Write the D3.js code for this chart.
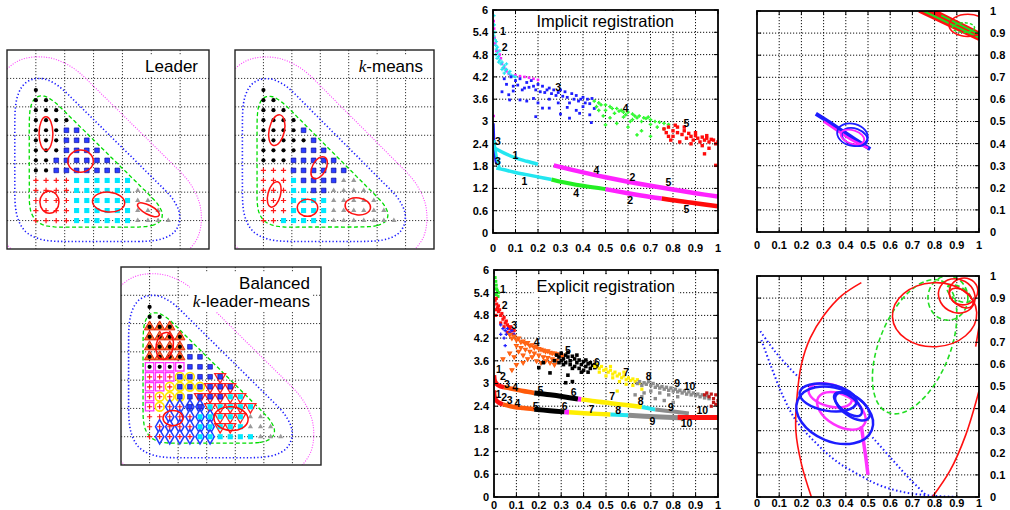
<!DOCTYPE html>
<html>
<head>
<meta charset="utf-8">
<script src="https://cdn.jsdelivr.net/npm/d3@7"></script>
<style>
  body { margin: 0; background: #fff; }
  text { font-family: "Liberation Sans", Arial, Helvetica, sans-serif; }
</style>
</head>
<body>
<svg id="fig" width="1010" height="510"></svg>
<script>
// ---------- left: clustering of a triangular lattice ----------
// rows go from the top row (j=13) down to j=0; character i is lattice column i
// k black, b blue, r red, c cyan, g gray ; overlays: o orange, m magenta, y yellow, d diamond, v down-triangle
const latticeStep = 0.353;
const leaderRows = ["k", "kk", "kkk", "kkkk", "kkkbb", "kkkbbb", "kkkbbbb", "kkbbbbbb", "kkbbbbbbb",
  "rrrrcccccc", "rrrrccccccg", "rrrrccccccgg", "rrrrccccccggg", "rrrrccccccgggg"];
const kmeansRows = ["k", "kk", "kkk", "kkkk", "kkkkb", "kkkkkb", "kkkkbbb", "kkkbbbbb", "rrrbbbbbb",
  "rrrcbbbbgg", "rrrccbbgggg", "rrrccccggggg", "rrrccccgggggg", "rrcccccggggggg"];
const balancedRows = ["k", "kk", "kkk", "kkkk", "kkkkb", "kkkkbb", "kkkkbbb", "rrrbbbbb", "rrrbbbbbb",
  "rrrbbbbbcc", "rrrrbbccccc", "rrrrrcccccgg", "rrrrrcccccggg", "rrrrrccccccggg"];
const balancedOverlay = [".", "..", "ooo", "oooo", "oooo.", "oooo..", "mmmm...", "mmmyy..v", "mmyyyyvvv",
  "myyy.vvvvv", "myddddvvvvv", "..dddddvvv..", ".ddddddvv....", ".dddddd......."];
// cluster ellipses: centre x, centre y, semi-axis x, semi-axis y, angle (deg)
const leaderEllipses = [[1.35, 4.06, 0.24, 0.59, 0], [2.55, 3.09, 0.44, 0.39, 0], [1.47, 1.65, 0.33, 0.39, 0],
  [3.52, 1.65, 0.56, 0.35, -5], [4.9, 1.38, 0.42, 0.16, -28]];
const kmeansEllipses = [[1.47, 4.18, 0.27, 0.55, -12], [2.96, 2.86, 0.24, 0.42, -28], [1.38, 1.92, 0.22, 0.46, -15],
  [2.55, 1.45, 0.36, 0.3, 0], [4.32, 1.5, 0.45, 0.3, -8]];
const balancedEllipses = [[1.53, 4.21, 0.3, 0.48, -10], [1.82, 1.66, 0.35, 0.27, 0], [3.85, 1.64, 0.6, 0.42, -5]];
const contourLevels = [0.45, 0.12, 0.02]; // share of the peak density: green, blue, magenta

// ---------- middle: registration curves ----------
const regTicks = [0, 0.6, 1.2, 1.8, 2.4, 3, 3.6, 4.2, 4.8, 5.4, 6];
const regTickLabels = ["0", "0.6", "1.2", "1.8", "2.4", "3", "3.6", "4.2", "4.8", "5.4", "6"];
const unitTicks = [0, 0.1, 0.2, 0.3, 0.4, 0.5, 0.6, 0.7, 0.8, 0.9, 1];
const unitTickLabels = ["0", "0.1", "0.2", "0.3", "0.4", "0.5", "0.6", "0.7", "0.8", "0.9", "1"];

const implicitCyanTop = [[0.004,5.85],[0.006,5.6],[0.008,5.4],[0.01,5.2],[0.012,5.05],[0.015,4.95],[0.02,4.85],[0.018,4.7],
  [0.025,4.75],[0.03,4.65],[0.035,4.55],[0.04,4.6],[0.045,4.45],[0.05,4.5],[0.055,4.38],[0.06,4.4],[0.07,4.3],[0.075,4.35],
  [0.08,4.25],[0.09,4.22],[0.1,4.2],[0.03,4.9],[0.02,5.0],[0.012,4.8],[0.04,4.4],[0.06,4.55],[0.005,5.3],[0.015,5.15],[0.025,4.6],[0.05,4.3]];
const implicitMagentaTop = [[0.003,5.7],[0.005,5.5],[0.007,5.25],[0.01,5.1],[0.015,4.9],[0.02,4.9],[0.03,4.8],[0.035,4.7],
  [0.04,4.55],[0.05,4.45],[0.06,4.35],[0.07,4.28],[0.08,4.22],[0.1,4.25],[0.12,4.22],[0.14,4.2],[0.16,4.18],[0.18,4.15],[0.2,4.12],[0.003,3.15]];
const implicitBlue = [[0.05,4.15],[0.08,4.2],[0.1,4.1],[0.12,4.15],[0.15,4.05],[0.17,4.1],[0.2,4.0],[0.22,3.95],[0.25,3.9],
  [0.27,3.85],[0.3,3.85],[0.32,3.8],[0.35,3.75],[0.37,3.7],[0.4,3.65],[0.42,3.6],[0.44,3.62],[0.06,4.0],[0.09,3.95],[0.11,3.98],
  [0.14,3.9],[0.16,3.92],[0.19,3.85],[0.21,3.8],[0.23,3.78],[0.26,3.75],[0.28,3.7],[0.31,3.68],[0.33,3.65],[0.36,3.6],[0.38,3.55],
  [0.41,3.5],[0.43,3.48],[0.04,3.8],[0.07,3.72],[0.074,3.58],[0.12,3.58],[0.15,3.55],[0.18,3.62],[0.2,3.5],[0.22,3.36],[0.19,3.13],
  [0.25,3.36],[0.29,3.5],[0.3,3.2],[0.33,3.38],[0.34,3.09],[0.37,3.3],[0.385,3.22],[0.4,3.4],[0.43,3.18],[0.437,2.97],[0.45,3.35],
  [0.13,3.85],[0.25,3.6],[0.34,3.5],[0.09,3.82],[0.18,3.95],[0.24,3.85],[0.29,3.78],[0.39,3.6]];
const implicitGreen = [[0.45,3.55],[0.47,3.5],[0.48,3.45],[0.5,3.45],[0.52,3.4],[0.53,3.35],[0.55,3.35],[0.57,3.3],[0.58,3.25],
  [0.6,3.25],[0.62,3.2],[0.63,3.15],[0.65,3.15],[0.67,3.1],[0.68,3.08],[0.7,3.05],[0.72,3.0],[0.74,2.98],[0.76,2.95],[0.78,2.92],
  [0.5,3.3],[0.54,3.22],[0.58,3.12],[0.62,3.05],[0.66,3.0],[0.7,2.92],[0.73,2.85],[0.47,3.3],[0.49,3.15],[0.5,2.91],[0.52,3.1],
  [0.55,2.95],[0.6,2.85],[0.64,2.64],[0.66,2.75],[0.7,2.6],[0.76,2.8],[0.46,3.4],[0.56,3.28],[0.69,3.12],[0.61,3.0],[0.64,3.1],[0.59,3.18]];
const implicitRed = [[0.76,2.8],[0.77,2.7],[0.78,2.85],[0.8,2.75],[0.8,2.6],[0.82,2.7],[0.82,2.85],[0.84,2.65],[0.85,2.75],
  [0.86,2.55],[0.87,2.68],[0.88,2.6],[0.89,2.5],[0.9,2.62],[0.91,2.55],[0.92,2.45],[0.93,2.58],[0.94,2.5],[0.95,2.55],[0.96,2.45],
  [0.97,2.52],[0.98,2.5],[0.99,2.4],[1.0,2.45],[0.79,2.5],[0.83,2.45],[0.88,2.4],[0.93,2.35],[0.94,2.13],[0.96,2.28],[0.99,1.82],
  [0.85,2.85],[0.78,2.6],[0.81,2.9],[0.9,2.7],[0.95,2.62]];
const implicitBlueStreak = [[0.002,2.95],[0.004,2.6],[0.006,2.3],[0.01,2.0],[0.015,1.85]];
const implicitCyanStreak = [[0.006,2.5],[0.012,2.2],[0.02,1.95],[0.03,1.75]];
const implicitCyanUpper = [[0.008,2.28],[0.05,2.15],[0.1,2.02],[0.15,1.93],[0.2,1.85]];
const implicitMagentaUpper = [[0.27,1.82],[0.4,1.63],[0.5,1.5],[0.6,1.38],[0.7,1.27],[0.8,1.17],[0.9,1.07],[1.0,0.98]];
const implicitCyanLower = [[0.015,1.75],[0.05,1.7],[0.1,1.63],[0.15,1.57],[0.2,1.51],[0.26,1.44]];
const implicitGreenLower = [[0.26,1.44],[0.3,1.38],[0.4,1.27],[0.5,1.18]];
const implicitMagentaLower = [[0.5,1.18],[0.6,1.07],[0.7,0.97],[0.75,0.93]];
const implicitRedLower = [[0.75,0.93],[0.8,0.88],[0.9,0.8],[1.0,0.72]];
const implicitLabels = [["1",0.044,5.42],["2",0.052,5.01],["3",0.29,3.92],["4",0.59,3.36],["5",0.86,2.95],["3",0.022,2.46],
  ["3",0.022,1.94],["1",0.1,2.1],["1",0.14,1.39],["4",0.46,1.68],["2",0.62,1.5],["5",0.78,1.36],["4",0.37,1.07],["2",0.61,0.88],["5",0.86,0.64]];

const explicitGreenTop = [[0.005,5.8],[0.008,5.7],[0.01,5.6],[0.012,5.5],[0.015,5.45],[0.01,5.35],[0.02,5.4],[0.005,5.5],[0.018,5.3]];
const explicitRedTop = [[0.005,5.2],[0.01,5.25],[0.012,5.1],[0.015,5.0],[0.02,5.05],[0.02,4.9],[0.025,4.95],[0.03,4.8],[0.035,4.85],
  [0.04,4.7],[0.045,4.75],[0.05,4.6],[0.055,4.65],[0.06,4.55],[0.065,4.5],[0.07,4.45],[0.075,4.5],[0.08,4.4],[0.09,4.4],[0.01,4.95],
  [0.008,4.8],[0.03,4.6],[0.045,4.5],[0.06,4.35],[0.085,4.3]];
const explicitBlueTop = [[0.03,4.55],[0.04,4.45],[0.05,4.4],[0.06,4.45],[0.07,4.35],[0.08,4.4],[0.09,4.3],[0.055,4.3],[0.045,4.2],[0.03,4.3],[0.05,4.0]];
const explicitOrange = [[0.07,4.3],[0.08,4.2],[0.09,4.25],[0.1,4.15],[0.11,4.2],[0.12,4.1],[0.13,4.12],[0.14,4.05],[0.15,4.08],
  [0.16,4.0],[0.17,4.02],[0.18,3.95],[0.19,3.98],[0.2,3.92],[0.21,3.9],[0.22,3.88],[0.23,3.85],[0.24,3.86],[0.25,3.82],[0.26,3.8],
  [0.27,3.8],[0.28,3.78],[0.29,3.76],[0.3,3.75],[0.31,3.72],[0.1,4.0],[0.12,3.95],[0.14,3.9],[0.16,3.85],[0.18,3.8],[0.2,3.75],
  [0.22,3.7],[0.24,3.68],[0.26,3.65],[0.28,3.62],[0.11,3.85],[0.13,3.75],[0.15,3.65],[0.17,3.7],[0.19,3.6],[0.21,3.55],[0.23,3.6],
  [0.09,3.7],[0.07,3.8],[0.1,3.5],[0.25,3.55],[0.27,3.5],[0.04,3.65],[0.08,3.36],[0.13,3.55]];
const explicitBlack = [[0.28,3.75],[0.29,3.7],[0.3,3.8],[0.31,3.65],[0.32,3.75],[0.33,3.7],[0.34,3.6],[0.35,3.72],[0.36,3.65],
  [0.37,3.55],[0.38,3.62],[0.39,3.5],[0.4,3.58],[0.41,3.45],[0.42,3.52],[0.43,3.4],[0.44,3.48],[0.45,3.42],[0.3,3.6],[0.32,3.55],
  [0.34,3.5],[0.36,3.45],[0.38,3.4],[0.4,3.35],[0.42,3.3],[0.33,3.82],[0.31,3.5],[0.35,3.4],[0.39,3.3],[0.27,3.6],[0.29,3.55],
  [0.37,3.75],[0.41,3.62],[0.43,3.55],[0.45,3.5],[0.46,3.45],[0.2,3.42],[0.25,3.28],[0.22,3.55],[0.33,3.22],[0.32,3.02],[0.35,3.05]];
const explicitYellow = [[0.45,3.45],[0.46,3.5],[0.47,3.4],[0.48,3.45],[0.49,3.35],[0.5,3.38],[0.51,3.3],[0.52,3.35],[0.53,3.25],
  [0.54,3.3],[0.55,3.2],[0.56,3.25],[0.57,3.15],[0.58,3.2],[0.59,3.1],[0.6,3.15],[0.61,3.08],[0.62,3.12],[0.63,3.05],[0.64,3.1],
  [0.65,3.0],[0.47,3.3],[0.5,3.2],[0.53,3.15],[0.56,3.05],[0.59,2.98],[0.62,2.95],[0.55,2.8],[0.66,2.85],[0.52,3.45],[0.58,3.3]];
const explicitGray = [[0.64,3.0],[0.65,3.05],[0.66,2.95],[0.67,3.02],[0.68,2.98],[0.69,3.05],[0.7,2.95],[0.71,3.0],[0.72,2.9],
  [0.73,2.95],[0.74,2.88],[0.75,2.92],[0.76,2.85],[0.77,2.9],[0.78,2.82],[0.79,2.88],[0.8,2.8],[0.81,2.85],[0.82,2.78],[0.83,2.82],
  [0.84,2.75],[0.85,2.8],[0.86,2.72],[0.87,2.78],[0.88,2.7],[0.89,2.75],[0.9,2.68],[0.91,2.72],[0.92,2.65],[0.93,2.7],[0.94,2.62],
  [0.95,2.68],[0.96,2.6],[0.7,2.8],[0.74,2.75],[0.78,2.7],[0.82,2.65],[0.67,2.75],[0.72,2.6],[0.76,2.55],[0.8,2.5],[0.66,2.65],[0.63,2.7]];
const explicitRedEnd = [[0.94,2.7],[0.95,2.75],[0.96,2.65],[0.97,2.72],[0.98,2.6],[0.99,2.7],[0.98,2.5],[0.99,2.45],[0.97,2.4],[1.0,2.55]];
const explicitUpperRed = [[0.0,3.22],[0.005,3.05],[0.02,2.95],[0.045,2.9]];
const explicitUpperOrange = [[0.045,2.9],[0.092,2.85],[0.13,2.8],[0.18,2.75]];
const explicitUpperBlack = [[0.18,2.75],[0.25,2.7],[0.31,2.65],[0.375,2.59]];
const explicitUpperMagenta = [[0.375,2.59],[0.39,2.58]];
const explicitUpperYellow = [[0.39,2.58],[0.45,2.53],[0.52,2.48],[0.59,2.43],[0.66,2.38]];
const explicitUpperCyan = [[0.66,2.38],[0.72,2.31]];
const explicitUpperGray = [[0.72,2.31],[0.8,2.26],[0.87,2.21]];
const explicitLowerRed = [[0.0,2.82],[0.005,2.6],[0.02,2.5],[0.04,2.45]];
const explicitLowerOrange = [[0.04,2.45],[0.09,2.38],[0.13,2.35],[0.18,2.32]];
const explicitLowerBlack = [[0.18,2.32],[0.25,2.28],[0.315,2.25]];
const explicitLowerMagenta = [[0.315,2.25],[0.335,2.24]];
const explicitLowerYellow = [[0.335,2.24],[0.42,2.21],[0.52,2.18]];
const explicitLowerCyan = [[0.52,2.18],[0.6,2.16]];
const explicitLowerGray = [[0.6,2.16],[0.72,2.12],[0.85,2.09]];
const explicitLowerRedEnd = [[0.82,2.11],[0.9,2.1],[1.0,2.1]];
const explicitLabels = [["1",0.04,5.49],["2",0.048,5.06],["3",0.09,4.53],["4",0.19,4.09],["5",0.33,3.88],["6",0.46,3.57],
  ["7",0.59,3.31],["8",0.69,3.2],["9",0.818,3.0],["10",0.873,2.94],
  ["1",0.022,3.38],["2",0.04,3.18],["3",0.058,2.99],["4",0.095,2.89],["5",0.207,2.82],["6",0.356,2.78],["7",0.527,2.67],
  ["8",0.655,2.54],["9",0.79,2.38],["10",0.93,2.29],
  ["1",0.02,2.72],["2",0.045,2.64],["3",0.07,2.56],["4",0.105,2.47],["5",0.186,2.41],["6",0.315,2.41],["7",0.435,2.32],
  ["8",0.554,2.29],["9",0.707,2.01],["10",0.86,1.94]];

// ---------- right: projections ----------
const trBlueBand = [[0.265,0.535],[0.32,0.5],[0.38,0.46],[0.44,0.42],[0.51,0.375]];
const trMagentaBand = [[0.3,0.5],[0.36,0.46],[0.42,0.42],[0.5,0.38]];
const trBlueArcs = [[0.43,0.44,0.07,0.05,-15],[0.44,0.43,0.06,0.038,-20]];
const trMagentaArcs = [[0.43,0.43,0.055,0.03,-18]];
const trRedLines = [[[0.73,1.0],[1.0,0.872]], [[0.77,1.0],[1.0,0.888]], [[0.8,1.0],[1.0,0.9]]];
const trGreenLines = [[[0.75,1.0],[1.0,0.88]], [[0.83,0.98],[1.0,0.895]]];
const trRedEllipses = [[0.95,0.935,0.085,0.05,0]];
const trGreenEllipses = [[0.93,0.925,0.05,0.022,0]];

const brRedArcLeft = [[0.245,0],[0.2,0.15],[0.175,0.3],[0.18,0.45],[0.2,0.6],[0.24,0.72],[0.3,0.82],[0.38,0.91],[0.47,0.97]];
const brRedArcRight = [[0.79,0],[0.87,0.12],[0.94,0.28],[1.0,0.48]];
const brRedArcEdge = [[0.985,0.68],[1.0,0.77]];
const brRedEllipses = [[0.8,0.825,0.19,0.145,3],[0.9,0.91,0.085,0.075,-30],[0.93,0.93,0.065,0.06,20],[0.92,0.9,0.06,0.035,-35]];
const brGreenEllipses = [[0.71,0.68,0.32,0.16,68],[0.86,0.9,0.09,0.1,0],[0.91,0.92,0.06,0.03,-30]];
const brBlueLoops = [[0.35,0.37,0.18,0.12,-22],[0.43,0.41,0.09,0.045,-35],[0.41,0.42,0.075,0.035,-38],[0.32,0.45,0.13,0.06,-10]];
const brMagentaLoops = [[0.38,0.39,0.12,0.07,-30],[0.33,0.46,0.1,0.05,-15]];
const brMagentaStreak = [[0.47,0.32],[0.48,0.25],[0.49,0.18],[0.5,0.1]];
const brBlueDotted1 = [[0.015,0.75],[0.08,0.66],[0.15,0.58],[0.2,0.53]];
const brBlueDotted2 = [[0.52,0.27],[0.6,0.18],[0.68,0.09],[0.76,0.01]];
const brBlueDotted3 = [[0.02,0.71],[0.06,0.6],[0.12,0.45],[0.18,0.34],[0.27,0.24],[0.36,0.16],[0.46,0.1],[0.56,0.05],[0.7,0.015],[0.9,0.0]];

// ======================================================================
const svg = d3.select("#fig");
const defs = svg.append("defs");
let clipCount = 0;
function addClip(w, h) {
  const id = "clip" + (clipCount++);
  defs.append("clipPath").attr("id", id).append("rect").attr("width", w).attr("height", h);
  return id;
}
function titleBox(g, lines, xRight, yFirst, lineGap, size) {
  const t = g.append("g");
  lines.forEach(([ital, rest], i) => {
    const tx = t.append("text").attr("x", xRight).attr("y", yFirst + i * lineGap)
      .attr("text-anchor", "end").attr("font-size", size);
    if (ital) tx.append("tspan").attr("font-family", '"Liberation Serif", "DejaVu Serif", serif')
      .attr("font-style", "italic").text(ital);
    tx.append("tspan").text(rest);
  });
  const bb = t.node().getBBox();
  t.insert("rect", ":first-child").attr("x", bb.x - 3).attr("y", bb.y - 1)
    .attr("width", bb.width + 6).attr("height", bb.height + 2).attr("fill", "#fff");
}

// ---------- lattice cluster panels ----------
function latticePoints(rows) {
  const pts = [];
  rows.forEach((row, r) => {
    const j = rows.length - 1 - r;
    [...row].forEach((c, i) => pts.push({ x: 1 + i * latticeStep, y: 1 + j * latticeStep, c }));
  });
  return pts;
}
const sym = (type, area) => d3.symbol(type, area)();

function clusterPanel(x0, y0, w, h, rows, overlay, ellipses, title) {
  const g = svg.append("g").attr("transform", `translate(${x0},${y0})`);
  const sx = d3.scaleLinear([0, 7], [0, w]);
  const sy = d3.scaleLinear([0, 7], [h, 0]);
  const inner = g.append("g").attr("clip-path", `url(#${addClip(w, h)})`);
  const gridVals = [1, 2, 3, 4, 5, 6];
  inner.selectAll(".gv").data(gridVals).join("line").attr("x1", sx).attr("x2", sx).attr("y1", 0).attr("y2", h)
    .attr("stroke", "#222").attr("stroke-width", 0.9).attr("stroke-dasharray", "1.2,1.8");
  inner.selectAll(".gh").data(gridVals).join("line").attr("y1", sy).attr("y2", sy).attr("x1", 0).attr("x2", w)
    .attr("stroke", "#222").attr("stroke-width", 0.9).attr("stroke-dasharray", "1.2,1.8");

  const pts = latticePoints(rows);
  // density contours, one smoothing width per level
  const pad = 90;
  const styles = [
    { stroke: "#00dd00", width: 1.3, dash: "4,2.5", bw: 11 },
    { stroke: "#1a1aff", width: 1.6, dash: "1.3,2.2", bw: 13 },
    { stroke: "#ff3cff", width: 1.1, dash: "1,1.5", bw: 19 }];
  contourLevels.forEach((f, i) => {
    const dens = d3.contourDensity().x(d => sx(d.x) + pad).y(d => sy(d.y) + pad)
      .size([w + 2 * pad, h + 2 * pad]).cellSize(2).bandwidth(styles[i].bw);
    let geo;
    if (dens.contours) {
      const c = dens.contours(pts);
      geo = c(c.max * f);
    } else {
      const all = dens.thresholds(200)(pts);
      const mx = d3.max(all, d => d.value);
      geo = dens.thresholds([mx * f])(pts)[0];
    }
    inner.append("path").attr("d", d3.geoPath()(geo)).attr("transform", `translate(${-pad},${-pad})`)
      .attr("fill", "none").attr("stroke", styles[i].stroke).attr("stroke-width", styles[i].width)
      .attr("stroke-dasharray", styles[i].dash);
  });

  // overlay markers (balanced k-leader-means)
  if (overlay) {
    const ov = latticePoints(overlay).filter(d => d.c !== ".");
    const mk = inner.append("g");
    ov.forEach(d => {
      const p = mk.append("path").attr("transform", `translate(${sx(d.x)},${sy(d.y)})`);
      if (d.c === "o") p.attr("d", sym(d3.symbolTriangle, 46)).attr("fill", "#ff7a30").attr("stroke", "#e8200a").attr("stroke-width", 1);
      if (d.c === "m") p.attr("d", sym(d3.symbolSquare, 70)).attr("fill", "#fff").attr("stroke", "#ff33ff").attr("stroke-width", 1.3);
      if (d.c === "y") p.attr("d", sym(d3.symbolCircle, 60)).attr("fill", "#fff").attr("stroke", "#ffe600").attr("stroke-width", 1.6);
      if (d.c === "d") p.attr("d", sym(d3.symbolDiamond, 60)).attr("fill", "#fff").attr("stroke", "#1e3cff").attr("stroke-width", 1.5);
      if (d.c === "v") p.attr("d", sym(d3.symbolTriangle, 52)).attr("transform", `translate(${sx(d.x)},${sy(d.y)}) rotate(180)`)
        .attr("fill", "#fff").attr("stroke", "#ff2020").attr("stroke-width", 1.3);
    });
  }
  // base markers
  const bm = inner.append("g");
  pts.forEach(d => {
    const tr = `translate(${sx(d.x)},${sy(d.y)})`;
    if (d.c === "k") bm.append("circle").attr("cx", sx(d.x)).attr("cy", sy(d.y)).attr("r", 2.1).attr("fill", "#000");
    if (d.c === "b") bm.append("path").attr("transform", tr).attr("d", sym(d3.symbolSquare, 22)).attr("fill", "#2b3dff").attr("stroke", "#000090").attr("stroke-width", 0.6);
    if (d.c === "c") bm.append("path").attr("transform", tr).attr("d", sym(d3.symbolSquare, 26)).attr("fill", "#00e8ff");
    if (d.c === "g") bm.append("path").attr("transform", tr).attr("d", sym(d3.symbolTriangle, 12)).attr("fill", "#9a9a9a");
    if (d.c === "r") bm.append("path").attr("transform", tr).attr("d", "M-2.6,0H2.6M0,-2.6V2.6").attr("stroke", "#ff1a1a").attr("stroke-width", 1.2);
  });
  inner.selectAll(".el").data(ellipses).join("ellipse")
    .attr("cx", d => sx(d[0])).attr("cy", d => sy(d[1]))
    .attr("rx", d => sx(d[2]) - sx(0)).attr("ry", d => sy(0) - sy(d[3]))
    .attr("transform", d => `rotate(${-d[4]},${sx(d[0])},${sy(d[1])})`)
    .attr("fill", "none").attr("stroke", "#ff1010").attr("stroke-width", 1.5);

  titleBox(g, title, w - 11, 21.5, 18.5, 17);
  g.append("rect").attr("width", w).attr("height", h).attr("fill", "none").attr("stroke", "#222").attr("stroke-width", 1.4);
}

clusterPanel(7, 50, 202, 199, leaderRows, null, leaderEllipses, [["", "Leader"]]);
clusterPanel(235, 50, 199, 199, kmeansRows, null, kmeansEllipses, [["k", "-means"]]);
clusterPanel(121, 267, 200, 198, balancedRows, balancedOverlay, balancedEllipses, [["", "Balanced"], ["k", "-leader-means"]]);

// ---------- axes panels ----------
function axesPanel(x0, y0, w, h, yTicks, yLabels, xLabelY, rightLabels) {
  const g = svg.append("g").attr("transform", `translate(${x0},${y0})`);
  const sx = d3.scaleLinear([0, 1], [0, w]);
  const sy = d3.scaleLinear([0, d3.max(yTicks)], [h, 0]);
  const grid = g.append("g");
  grid.selectAll(".gx").data(unitTicks.slice(1, -1)).join("line").attr("x1", sx).attr("x2", sx).attr("y1", 0).attr("y2", h)
    .attr("stroke", "#111").attr("stroke-width", 1).attr("stroke-dasharray", "1.2,1.8");
  grid.selectAll(".gy").data(yTicks.slice(1, -1)).join("line").attr("y1", sy).attr("y2", sy).attr("x1", 0).attr("x2", w)
    .attr("stroke", "#111").attr("stroke-width", 1).attr("stroke-dasharray", "1.2,1.8");
  const inner = g.append("g").attr("clip-path", `url(#${addClip(w, h)})`);
  const top = g.append("g");
  top.append("rect").attr("width", w).attr("height", h).attr("fill", "none").attr("stroke", "#000").attr("stroke-width", 1.8);
  unitTicks.forEach(v => {
    top.append("line").attr("x1", sx(v)).attr("x2", sx(v)).attr("y1", h).attr("y2", h - 4).attr("stroke", "#000");
    top.append("line").attr("x1", sx(v)).attr("x2", sx(v)).attr("y1", 0).attr("y2", 4).attr("stroke", "#000");
  });
  yTicks.forEach(v => {
    top.append("line").attr("y1", sy(v)).attr("y2", sy(v)).attr("x1", 0).attr("x2", 4).attr("stroke", "#000");
    top.append("line").attr("y1", sy(v)).attr("y2", sy(v)).attr("x1", w).attr("x2", w - 4).attr("stroke", "#000");
  });
  top.selectAll(".xl").data(unitTicks).join("text").attr("x", sx).attr("y", xLabelY - y0)
    .attr("text-anchor", "middle").attr("font-size", 11).attr("font-weight", "bold").text((d, i) => unitTickLabels[i]);
  top.selectAll(".yl").data(yTicks).join("text")
    .attr("x", rightLabels ? w + 11 : -5).attr("y", sy).attr("dy", "0.36em")
    .attr("text-anchor", rightLabels ? "start" : "end").attr("font-size", 11).attr("font-weight", "bold")
    .text((d, i) => yLabels[i]);
  return { g, inner, top, sx, sy, w, h };
}

function marks(P, pts, color, shape, size) {
  const layer = P.inner.append("g");
  pts.forEach(d => {
    const p = layer.append("path").attr("transform", `translate(${P.sx(d[0])},${P.sy(d[1])})`);
    if (shape === "square") p.attr("d", `M${-size / 2},${-size / 2}h${size}v${size}h${-size}Z`).attr("fill", color);
    if (shape === "plus") p.attr("d", `M${-size / 2},0H${size / 2}M0,${-size / 2}V${size / 2}`).attr("stroke", color).attr("stroke-width", 1.2);
    if (shape === "tri") p.attr("d", sym(d3.symbolTriangle, size * size * 0.9)).attr("fill", color);
    if (shape === "vtri") p.attr("d", sym(d3.symbolTriangle, size * size * 0.9)).attr("fill", color)
      .attr("transform", `translate(${P.sx(d[0])},${P.sy(d[1])}) rotate(180)`);
  });
}
function band(P, pts, color, width, dash) {
  const line = d3.line().x(d => P.sx(d[0])).y(d => P.sy(d[1])).curve(d3.curveCatmullRom);
  const p = P.inner.append("path").datum(pts).attr("d", line).attr("fill", "none")
    .attr("stroke", color).attr("stroke-width", width);
  if (dash) p.attr("stroke-dasharray", dash);
}
function ellipses(P, list, color, width, dash) {
  const sel = P.inner.append("g").selectAll("ellipse").data(list).join("ellipse")
    .attr("cx", d => P.sx(d[0])).attr("cy", d => P.sy(d[1]))
    .attr("rx", d => P.sx(d[2]) - P.sx(0)).attr("ry", d => P.sy(0) - P.sy(d[3]))
    .attr("transform", d => `rotate(${-d[4]},${P.sx(d[0])},${P.sy(d[1])})`)
    .attr("fill", "none").attr("stroke", color).attr("stroke-width", width);
  if (dash) sel.attr("stroke-dasharray", dash);
}
function numLabels(P, list) {
  P.top.selectAll(".nl").data(list).join("text").attr("x", d => P.sx(d[1])).attr("y", d => P.sy(d[2]))
    .attr("dy", "0.36em").attr("text-anchor", "middle").attr("font-size", 10.5).attr("font-weight", "bold").text(d => d[0]);
}

// Implicit registration
const PI = axesPanel(493, 10, 225, 223, regTicks, regTickLabels, 252, false);
marks(PI, implicitMagentaTop, "#ff22ff", "square", 2.6);
marks(PI, implicitCyanTop, "#22e6f0", "plus", 3.4);
marks(PI, implicitBlue, "#1d1dff", "square", 2.8);
marks(PI, implicitGreen, "#22ee22", "plus", 3.6);
marks(PI, implicitGreen, "#33ff33", "square", 2);
marks(PI, implicitRed, "#ff0a0a", "square", 3.4);
band(PI, implicitBlueStreak, "#2020ff", 2.5);
band(PI, implicitCyanStreak, "#22e6f0", 2.5);
band(PI, implicitCyanUpper, "#22e6f0", 3.5);
band(PI, implicitMagentaUpper, "#ff22ff", 4.5);
band(PI, implicitCyanLower, "#22e6f0", 3.5);
band(PI, implicitGreenLower, "#22ee22", 4);
band(PI, implicitMagentaLower, "#ff22ff", 4.5);
band(PI, implicitRedLower, "#ff0a0a", 4.5);
numLabels(PI, implicitLabels);
titleBox(PI.g, [["", "Implicit registration"]], 181, 17, 0, 16.5);

// Explicit registration
const PE = axesPanel(494, 270, 224, 227, regTicks, regTickLabels, 509, false);
marks(PE, explicitGreenTop, "#22ee22", "square", 3);
marks(PE, explicitRedTop, "#ff1010", "square", 3.2);
marks(PE, explicitBlueTop, "#2020ff", "plus", 3.4);
marks(PE, explicitOrange, "#ff5a0a", "vtri", 4);
marks(PE, explicitOrange, "#ff6a1a", "square", 2.4);
marks(PE, explicitBlack, "#000", "square", 3.6);
marks(PE, explicitYellow, "#ffee00", "square", 3.2);
marks(PE, explicitGray, "#8c8c8c", "square", 3.4);
marks(PE, explicitRedEnd, "#c01818", "square", 3.2);
band(PE, explicitUpperRed, "#ff1010", 4.5);
band(PE, explicitUpperOrange, "#ff5a0a", 4.5);
band(PE, explicitUpperBlack, "#000", 5);
band(PE, explicitUpperMagenta, "#ff22ff", 5);
band(PE, explicitUpperYellow, "#ffee00", 4.5);
band(PE, explicitUpperCyan, "#22e6f0", 4);
band(PE, explicitUpperGray, "#8c8c8c", 4);
band(PE, explicitLowerRed, "#ff1010", 4.5);
band(PE, explicitLowerOrange, "#ff5a0a", 4.5);
band(PE, explicitLowerBlack, "#000", 5);
band(PE, explicitLowerMagenta, "#ff22ff", 5);
band(PE, explicitLowerYellow, "#ffee00", 4.5);
band(PE, explicitLowerCyan, "#22e6f0", 4);
band(PE, explicitLowerGray, "#8c8c8c", 5);
band(PE, explicitLowerRedEnd, "#ff1010", 5);
numLabels(PE, explicitLabels);
titleBox(PE.g, [["", "Explicit registration"]], 181, 22, 0, 16.5);

// Top right projection
const PT = axesPanel(757, 11, 222, 221, unitTicks, unitTickLabels, 249, true);
trRedLines.forEach(l => band(PT, l, "#ff1010", 3.5));
trGreenLines.forEach(l => band(PT, l, "#22dd22", 2));
ellipses(PT, trRedEllipses, "#ff1010", 1.5);
ellipses(PT, trGreenEllipses, "#22dd22", 1.5, "3,2");
band(PT, trBlueBand, "#1d1dff", 4);
band(PT, trMagentaBand, "#ff22ff", 2.5);
ellipses(PT, trBlueArcs, "#1d1dff", 1.8);
ellipses(PT, trMagentaArcs, "#ff22ff", 1.8);

// Bottom right projection
const PB = axesPanel(757, 276, 222, 221, unitTicks, unitTickLabels, 507, true);
band(PB, brBlueDotted1, "#1d1dff", 2, "1.5,2.5");
band(PB, brBlueDotted2, "#1d1dff", 2, "1.5,2.5");
band(PB, brBlueDotted3, "#1d1dff", 2, "1.5,2.5");
ellipses(PB, brGreenEllipses, "#22dd22", 1.6, "5,3");
ellipses(PB, brRedEllipses, "#ff1010", 1.6);
band(PB, brRedArcLeft, "#ff1010", 1.6);
band(PB, brRedArcRight, "#ff1010", 1.6);
band(PB, brRedArcEdge, "#ff1010", 1.6);
ellipses(PB, brMagentaLoops, "#ff33ff", 2.5);
band(PB, brMagentaStreak, "#ff33ff", 3.5);
ellipses(PB, brBlueLoops, "#1d1dff", 2.5);
</script>
</body>
</html>
